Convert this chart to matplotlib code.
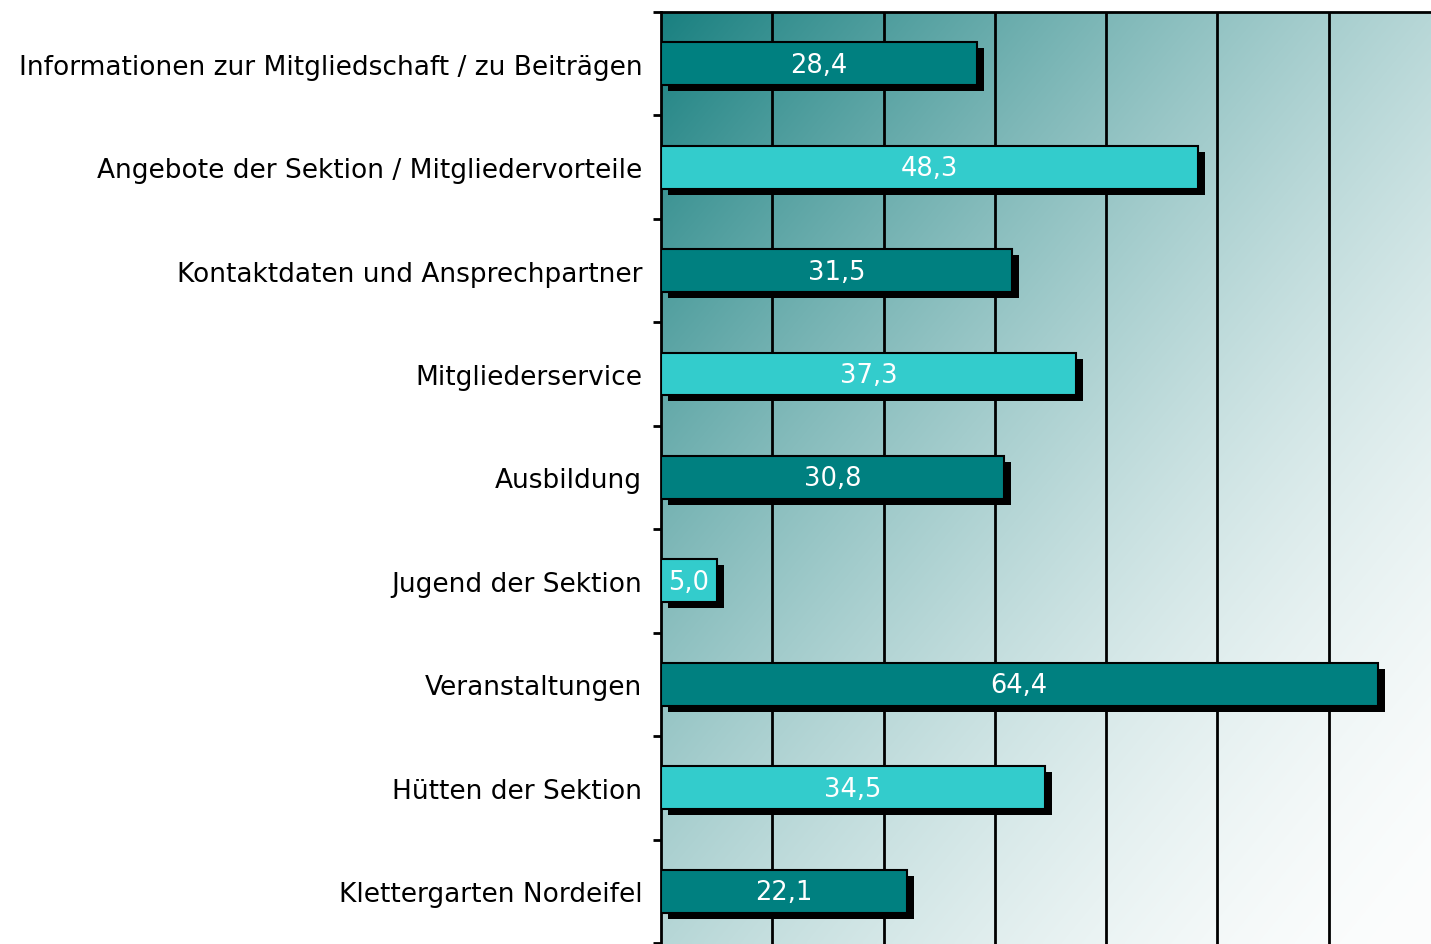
import matplotlib
matplotlib.use("Agg")
import matplotlib.pyplot as plt
import matplotlib.transforms as mtransforms
import numpy as np

categories = [
    "Informationen zur Mitgliedschaft / zu Beiträgen",
    "Angebote der Sektion / Mitgliedervorteile",
    "Kontaktdaten und Ansprechpartner",
    "Mitgliederservice",
    "Ausbildung",
    "Jugend der Sektion",
    "Veranstaltungen",
    "Hütten der Sektion",
    "Klettergarten Nordeifel",
]
values = [28.4, 48.3, 31.5, 37.3, 30.8, 5.0, 64.4, 34.5, 22.1]
bar_colors = ["#008080", "#33CCCC"]

fig = plt.figure(figsize=(14.31, 9.45), dpi=100)
ax = fig.add_axes([661 / 1431, 0.0, 1 - 661 / 1431, 1 - 12 / 945 - 0.001])

xmax = 69.2
n = len(categories)
ax.set_xlim(0, xmax)
ax.set_ylim(n - 0.5 + 0.01, -0.5)

# diagonal teal -> white background
gx, gy = np.meshgrid(np.linspace(0, 1, 300), np.linspace(0, 1, 300))
t = (gx + gy) / 2
f = 1 - (1 - t) ** 1.7
c0 = np.array([25, 128, 128]) / 255
c1 = np.array([252, 253, 253]) / 255
img = c0 + (c1 - c0) * f[..., None]
ax.imshow(img, extent=[0, xmax, n - 0.5 + 0.01, -0.5], aspect="auto", zorder=0,
          interpolation="bilinear")

for gxv in range(10, 70, 10):
    ax.axvline(gxv, color="black", lw=2, zorder=1)

y = np.arange(n)
colors = [bar_colors[i % 2] for i in range(n)]
shadow = ax.transData + mtransforms.ScaledTranslation(7 / 100, -6 / 100, fig.dpi_scale_trans)
ax.barh(y, values, height=0.415, color="black", transform=shadow, zorder=2)
ax.barh(y, values, height=0.415, color=colors, edgecolor="black", linewidth=1.5, zorder=3)

for yi, v in zip(y, values):
    ax.text(v / 2, yi + 0.01, f"{v:.1f}".replace(".", ","), ha="center", va="center",
            color="white", fontsize=18.5, zorder=4)

ax.set_yticks(y)
ax.set_yticklabels(categories, fontsize=19)
ax.tick_params(axis="y", length=0, pad=13.5)
ax.set_yticks(np.arange(n + 1) - 0.5, minor=True)
ax.tick_params(axis="y", which="minor", length=6, width=2, direction="out")
ax.set_xticks([])

for side in ["right", "bottom"]:
    ax.spines[side].set_visible(False)
for side in ["left", "top"]:
    ax.spines[side].set_linewidth(2)

fig.savefig("out.png", dpi=100)
